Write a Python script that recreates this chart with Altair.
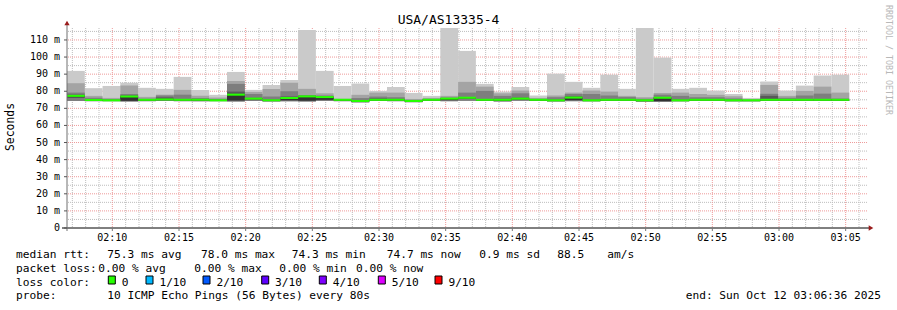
import altair as alt
import pandas as pd

MONO = "DejaVu Sans Mono"

# ---------------- data ----------------
# one value per 80 s step (10 pings each), milliseconds
rtt_max = [91.9, 81.8, 83.1, 84.9, 82.0, 81.4, 88.4, 80.8, 77.9, 91.3,
           80.8, 83.7, 86.6, 115.9, 91.9, 83.1, 84.5, 80.2, 82.5, 79.0,
           77.3, 117.0, 103.6, 84.3, 79.8, 82.5, 77.5, 90.3, 85.5, 82.0,
           89.7, 81.4, 117.0, 99.7, 81.4, 82.0, 80.4, 78.4, 76.1, 85.7,
           80.4, 83.3, 89.2, 89.7]
rtt_p9 = [84.7, 77.3, 76.1, 83.3, 76.7, 78.0, 80.8, 77.3, 76.3, 86.0,
          79.6, 81.3, 85.0, 81.4, 78.8, 75.6, 77.9, 79.2, 79.2, 75.5,
          76.1, 77.3, 85.5, 82.7, 78.8, 80.4, 76.1, 77.5, 79.2, 80.4,
          79.8, 77.3, 76.5, 79.0, 79.2, 78.4, 77.9, 77.1, 75.4, 83.7,
          77.3, 80.2, 82.7, 79.2]
rtt_p8 = [79.2, 76.2, 75.3, 78.4, 75.6, 77.5, 78.0, 76.0, 75.5, 84.3,
          78.4, 77.0, 80.0, 77.8, 77.5, 75.2, 76.0, 76.9, 76.5, 74.9,
          75.5, 76.3, 79.2, 80.2, 77.3, 78.8, 75.5, 76.5, 78.4, 78.4,
          77.5, 76.6, 75.6, 78.0, 77.3, 76.5, 76.5, 75.8, 75.0, 78.5,
          76.2, 77.5, 78.6, 75.7]
rtt_p7 = [78.0, 75.3, 75.0, 77.5, 75.3, 76.4, 75.4, 75.3, 75.0, 79.8,
          76.1, 75.0, 77.0, 77.3, 77.0, 75.1, 74.8, 75.8, 75.5, 74.6,
          75.2, 76.0, 76.6, 75.4, 75.6, 76.2, 75.2, 75.0, 77.0, 75.0,
          75.4, 75.3, 74.9, 76.6, 75.1, 75.5, 75.4, 75.0, 74.8, 77.3,
          75.3, 75.3, 75.4, 75.3]
rtt_median = [77.3, 74.9, 74.7, 76.9, 75.0, 75.2, 75.0, 75.0, 74.7, 78.0,
              75.7, 74.7, 76.1, 77.0, 76.6, 75.0, 74.3, 75.0, 75.0, 74.3,
              75.0, 75.7, 76.2, 75.0, 75.0, 75.7, 75.0, 74.7, 76.3, 74.7,
              75.0, 75.0, 74.7, 76.2, 74.7, 75.0, 75.0, 74.7, 74.7, 75.0,
              75.0, 75.0, 75.0, 75.0]
rtt_low = [76.4, 74.5, 74.3, 74.4, 74.6, 74.8, 74.6, 74.6, 74.3, 74.6,
           75.3, 74.3, 74.8, 74.5, 75.0, 74.6, 73.9, 74.6, 74.6, 73.9,
           74.6, 74.8, 75.7, 74.6, 74.4, 75.3, 74.6, 74.3, 74.8, 74.3,
           74.6, 74.6, 74.3, 74.2, 74.3, 74.6, 74.6, 74.3, 74.3, 74.6,
           74.6, 74.6, 74.6, 74.6]
rtt_min = [74.3, 74.2, 74.2, 74.0, 74.2, 74.3, 74.2, 74.2, 74.2, 74.0,
           74.3, 74.0, 74.2, 74.0, 74.3, 74.2, 73.5, 74.3, 74.2, 73.6,
           74.3, 74.2, 74.4, 74.3, 74.0, 74.4, 74.3, 74.0, 74.2, 74.1,
           74.3, 74.3, 73.8, 73.9, 74.1, 74.3, 74.3, 74.1, 74.1, 74.3,
           74.3, 74.3, 74.3, 74.3]

x_tick_labels = ["02:10", "02:15", "02:20", "02:25", "02:30", "02:35",
                 "02:40", "02:45", "02:50", "02:55", "03:00", "03:05"]
y_tick_values = [0, 10, 20, 30, 40, 50, 60, 70, 80, 90, 100, 110]

stats_rtt = ["75.3 ms avg", "78.0 ms max", "74.3 ms min", "74.7 ms now",
             "0.9 ms sd", "88.5", "am/s"]
stats_loss = ["0.00 % avg", "0.00 % max", "0.00 % min", "0.00 % now"]
loss_labels = ["0", "1/10", "2/10", "3/10", "4/10", "5/10", "9/10"]
loss_colors = ["#26ff00", "#00b8ff", "#0059ff", "#5e00ff", "#7e00ff",
               "#dd00ff", "#ff0000"]

TITLE = "USA/AS13335-4"
PROBE = "10 ICMP Echo Pings (56 Bytes) every 80s"
END_TXT = "end: Sun Oct 12 03:06:36 2025"

# ---------------- time axis (minutes after 00:00) ----------------
START = 2 * 60 + 6 + 36 / 60.0
STEP = 80 / 60.0
END = START + 60.0
Y_TOP = 117.0

n = len(rtt_median)
t0 = [START + i * STEP for i in range(n)]
t1 = [t + STEP for t in t0]

bands = [("b1", rtt_min, rtt_max), ("b2", rtt_min, rtt_p9),
         ("b3", rtt_min, rtt_p8), ("b4", rtt_low, rtt_p7),
         ("b5", rtt_low, rtt_median)]
rows = []
for name, lo, hi in bands:
    for i in range(n):
        rows.append({"band": name, "t0": t0[i], "t1": t1[i],
                     "lo": lo[i], "hi": hi[i]})
smoke = pd.DataFrame(rows)
median_df = pd.DataFrame({"t0": t0, "t1": t1, "med": rtt_median})

x_tick_values = [int(s[:2]) * 60 + int(s[3:]) for s in x_tick_labels]
minor_v = [m for m in range(int(START) + 1, int(END) + 1) if m not in x_tick_values]
major_h = [v for v in y_tick_values if v > 0]
minor_h = [v + 5 for v in y_tick_values]
x_ticks_df = pd.DataFrame({"t": x_tick_values, "label": x_tick_labels})
y_ticks_df = pd.DataFrame({
    "v": y_tick_values,
    "label": ["0\u00a0\u00a0" if v == 0 else f"{v} m" for v in y_tick_values]})

xs = alt.Scale(domain=[START, END], nice=False, zero=False)
ys = alt.Scale(domain=[0, Y_TOP], nice=False, zero=True)

PL, PT = 67, 28
W, H = 800, 200


def X(f):
    return alt.X(f, scale=xs, axis=None)


def Y(f):
    return alt.Y(f, scale=ys, axis=None)


def XD(v):
    return alt.XDatum(v, type="quantitative", scale=xs, axis=None)


def YD(v):
    return alt.YDatum(v, type="quantitative", scale=ys, axis=None)


# ---------------- grid ----------------
GRAY = "#bdbdbd"
RED = "#ee9a9a"
grid_minor_v = alt.Chart(pd.DataFrame({"t": minor_v})).mark_rule(
    color=GRAY, strokeDash=[1, 1], strokeWidth=1).encode(x=X("t:Q"))
grid_minor_h = alt.Chart(pd.DataFrame({"v": minor_h})).mark_rule(
    color=GRAY, strokeDash=[1, 1], strokeWidth=1).encode(y=Y("v:Q"))
grid_major_v = alt.Chart(x_ticks_df).mark_rule(
    color=RED, strokeDash=[1, 1], strokeWidth=1).encode(x=X("t:Q"))
grid_major_h = alt.Chart(pd.DataFrame({"v": major_h})).mark_rule(
    color=RED, strokeDash=[1, 1], strokeWidth=1).encode(y=Y("v:Q"))

# ---------------- smoke + median ----------------
smoke_layer = alt.Chart(smoke).mark_rect().encode(
    x=X("t0:Q"), x2="t1:Q", y=Y("lo:Q"), y2="hi:Q",
    color=alt.Color("band:N", legend=None,
                    scale=alt.Scale(domain=["b1", "b2", "b3", "b4", "b5"],
                                    range=["#cacaca", "#a4a4a4", "#7e7e7e",
                                           "#585858", "#323232"])),
)

median_layer = alt.Chart(median_df).transform_calculate(
    a="datum.med - 0.6", b="datum.med + 0.6"
).mark_rect(color="#26ff00").encode(
    x=X("t0:Q"), x2="t1:Q", y=Y("a:Q"), y2="b:Q")

# ---------------- axes drawn from the tick arrays ----------------
one = alt.Data(values=[{"k": 1}])
x_axis_line = alt.Chart(one).mark_rule(color="#000000", xOffset=-5, x2Offset=2).encode(
    x=XD(START), x2=alt.X2Datum(END), y=YD(0))
y_axis_line = alt.Chart(one).mark_rule(color="#707070", yOffset=3, y2Offset=-4).encode(
    x=XD(START), y=YD(0), y2=alt.Y2Datum(Y_TOP))
arrow_up = alt.Chart(one).mark_point(shape="triangle-up", filled=True, size=28,
                                     color="#9a1c1c", opacity=1, yOffset=-5).encode(
    x=XD(START), y=YD(Y_TOP))
arrow_right = alt.Chart(one).mark_point(shape="triangle-right", filled=True, size=28,
                                        color="#9a1c1c", opacity=1, xOffset=4).encode(
    x=XD(END), y=YD(0))

x_tick_marks = alt.Chart(x_ticks_df).mark_rule(color="#777777", y2Offset=3).encode(
    x=X("t:Q"), y=YD(0), y2=alt.Y2Datum(0))
x_tick_text = alt.Chart(x_ticks_df).mark_text(
    font=MONO, fontSize=10, color="#000000", align="center", baseline="middle",
    dy=10).encode(x=X("t:Q"), y=YD(0), text="label:N")
y_tick_marks = alt.Chart(y_ticks_df).mark_rule(color="#555555", xOffset=-3).encode(
    x=XD(START), x2=alt.X2Datum(START), y=Y("v:Q"))
y_tick_text = alt.Chart(y_ticks_df).mark_text(
    font=MONO, fontSize=10, color="#000000", align="right", baseline="middle",
    dx=-7).encode(x=XD(START), y=Y("v:Q"), text="label:N")


# ---------------- text ----------------
def txt(s, x, y, size=11.2, align="left", color="#000000", angle=0,
        baseline="alphabetic"):
    return alt.Chart(alt.Data(values=[{"k": 1}])).mark_text(
        text=s, font=MONO, fontSize=size, align=align, baseline=baseline,
        color=color, angle=angle).encode(
        x=alt.value(x - PL), y=alt.value(y - PT))


texts = [
    txt(TITLE, 448.5, 19.5, size=13, align="center", baseline="middle"),
    txt("Seconds", 11, 127, size=11.4, align="center", baseline="middle", angle=270),
    txt("RRDTOOL / TOBI OETIKER", 888, 60, size=8.3, align="center",
        baseline="middle", angle=90, color="#b8b8b8"),
]
B1, B2, B3, B4 = 258, 272, 285.5, 299
texts.append(txt("median rtt:", 16, B1))
for s, x in zip(stats_rtt, [107.3, 201, 291.7, 386.7, 479.3, 557.3, 607.3]):
    texts.append(txt(s, x, B1))
texts.append(txt("packet loss:", 16, B2))
for s, x in zip(stats_loss, [98.3, 194.3, 279.3, 356]):
    texts.append(txt(s, x, B2))
texts.append(txt("loss color:", 16, B3))
sq_x = [108.3, 146, 203, 261.7, 319.3, 378.3, 435]
for lab, col, x in zip(loss_labels, loss_colors, sq_x):
    texts.append(alt.Chart(alt.Data(values=[{"k": 1}])).mark_rect(
        fill=col, stroke="#000000", strokeWidth=1).encode(
        x=alt.value(x - PL), x2=alt.value(x + 7 - PL),
        y=alt.value(276 - PT), y2=alt.value(284 - PT)))
    texts.append(txt(lab, x + 13.4, B3))
texts.append(txt("probe:", 16, B4))
texts.append(txt(PROBE, 107.3, B4))
texts.append(txt(END_TXT, 881, B4, align="right"))

chart = alt.layer(
    grid_minor_v, grid_minor_h, grid_major_v, grid_major_h,
    smoke_layer, median_layer,
    x_axis_line, y_axis_line, arrow_up, arrow_right,
    x_tick_marks, x_tick_text, y_tick_marks, y_tick_text,
    *texts
).properties(
    width=W, height=H,
    padding={"left": PL, "top": PT, "right": 897 - PL - W, "bottom": 310 - PT - H},
    autosize=alt.AutoSizeParams(type="none"),
    background="#ffffff",
).configure_view(stroke=None)

chart.save("out.html", embed_options={"renderer": "svg", "actions": False})
